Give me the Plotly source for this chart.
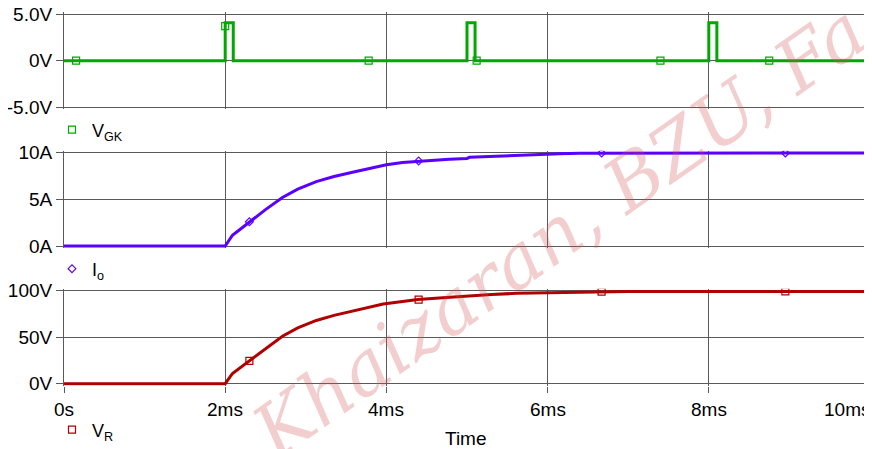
import plotly.graph_objects as go

# ---------------- data (time in ms) ----------------
t_vgk = [0, 2.0, 2.0, 2.1, 2.1, 5.0, 5.0, 5.1, 5.1, 8.0, 8.0, 8.1, 8.1, 10.0]
vgk = [0, 0, 4.05, 4.05, 0, 0, 4.05, 4.05, 0, 0, 4.05, 4.05, 0, 0]
t_vgk_mk = [0.15, 2.0, 3.78, 5.12, 7.40, 8.75]
vgk_mk = [0, 3.7, 0, 0, 0, 0]

t_io = [0, 2.0, 2.09, 2.3, 2.5, 2.71, 2.9, 3.13, 3.35, 3.58, 3.8, 4.0, 4.2, 4.39,
        4.6, 4.78, 5.0, 5.03, 5.3, 5.53, 5.8, 6.15, 6.4, 7.0, 8.0, 9.0, 10.0]
io = [0, 0, 1.15, 2.6, 3.9, 5.2, 6.1, 6.9, 7.45, 7.9, 8.35, 8.7, 8.95, 9.1,
      9.2, 9.3, 9.38, 9.5, 9.6, 9.72, 9.8, 9.88, 9.95, 9.96, 9.97, 9.97, 9.97]
t_io_mk = [2.3, 4.40, 6.67, 8.95]
io_mk = [2.6, 9.12, 9.96, 9.97]

t_vr = [0, 2.0, 2.09, 2.3, 2.5, 2.71, 2.9, 3.13, 3.35, 3.54, 3.75, 3.96, 4.2, 4.39,
        4.7, 5.03, 5.3, 5.61, 6.02, 6.4, 7.0, 8.0, 9.0, 10.0]
vr = [0, 0, 11, 24.5, 38, 51, 60, 68, 73.5, 77.5, 82, 85.7, 88.5, 90.5,
      92.5, 94.6, 95.8, 97.2, 97.8, 98.8, 99.1, 99.2, 99.2, 99.2]
t_vr_mk = [2.3, 4.40, 6.67, 8.95]
vr_mk = [24.5, 90.5, 99.1, 99.2]

x_ticks = [0, 2, 4, 6, 8, 10]
x_ticklabels = ["0s", "2ms", "4ms", "6ms", "8ms", "10ms"]
y1_ticks = [-5, 0, 5]
y1_labels = ["-5.0V", "0V", "5.0V"]
y2_ticks = [0, 5, 10]
y2_labels = ["0A", "5A", "10A"]
y3_ticks = [0, 50, 100]
y3_labels = ["0V", "50V", "100V"]

# ---------------- styling ----------------
GREEN = "#00a800"
BLUE = "#5a00ff"
RED = "#b00000"
GRID = "#5a5a5a"
FONT = "Liberation Sans, Arial, sans-serif"

fig = go.Figure()

fig.add_trace(go.Scatter(x=t_vgk, y=vgk, mode="lines", line=dict(color=GREEN, width=3),
                         xaxis="x", yaxis="y", showlegend=False))
fig.add_trace(go.Scatter(x=t_vgk_mk, y=vgk_mk, mode="markers",
                         marker=dict(symbol="square-open", size=7, color=GREEN, line=dict(width=1.2)),
                         xaxis="x", yaxis="y", name="V<sub>GK</sub>", legend="legend"))
fig.add_trace(go.Scatter(x=t_io, y=io, mode="lines", line=dict(color=BLUE, width=3),
                         xaxis="x2", yaxis="y2", showlegend=False))
fig.add_trace(go.Scatter(x=t_io_mk, y=io_mk, mode="markers",
                         marker=dict(symbol="diamond-open", size=6, color=BLUE, line=dict(width=1.2)),
                         xaxis="x2", yaxis="y2", name="I<sub>o</sub>", legend="legend2"))
fig.add_trace(go.Scatter(x=t_vr, y=vr, mode="lines", line=dict(color=RED, width=3),
                         xaxis="x3", yaxis="y3", showlegend=False))
fig.add_trace(go.Scatter(x=t_vr_mk, y=vr_mk, mode="markers",
                         marker=dict(symbol="square-open", size=7, color=RED, line=dict(width=1.2)),
                         xaxis="x3", yaxis="y3", name="V<sub>R</sub>", legend="legend3"))

# page offset of the figure inside the browser body (default body margin)
OFF = 8
W, H = 872 - OFF, 449 - OFF
L, R, T, B = 64 - OFF, 2, 0, 0
PW = W - L - R

def py(P):
    return 1 - (P - OFF) / H

def px(P):
    return (P - OFF - L) / PW

xcommon = dict(range=[0, 10], tickvals=x_ticks, showgrid=True, gridcolor=GRID, gridwidth=1,
               showline=False, zeroline=False, fixedrange=True, automargin=False)
ycommon = dict(showgrid=True, gridcolor=GRID, gridwidth=1, showline=True, linecolor=GRID,
               linewidth=1, mirror=True, zeroline=False, ticks="outside", ticklen=7,
               tickcolor=GRID, automargin=False, ticklabeloverflow="allow",
               tickfont=dict(family=FONT, size=19, color="black"))

legfont = dict(family=FONT, size=18, color="black")
fig.update_layout(
    width=W, height=H,
    margin=dict(l=L, r=R, t=T, b=B, autoexpand=False),
    paper_bgcolor="white", plot_bgcolor="white",
    font=dict(family=FONT, color="black"),
    xaxis=dict(xcommon, anchor="y", showticklabels=False, ticks=""),
    xaxis2=dict(xcommon, anchor="y2", matches="x", showticklabels=False, ticks=""),
    xaxis3=dict(xcommon, anchor="y3", matches="x", showticklabels=False, ticks="outside",
                ticklen=6, tickcolor=GRID),
    yaxis=dict(ycommon, domain=[py(109.3), py(12)], range=[-5.214, 5.214],
               tickvals=y1_ticks, ticktext=y1_labels),
    yaxis2=dict(ycommon, domain=[py(248), py(150.7)], range=[-0.214, 10.214],
                tickvals=y2_ticks, ticktext=y2_labels),
    yaxis3=dict(ycommon, domain=[py(385.7), py(288.7)], range=[-2.15, 102.15],
                tickvals=y3_ticks, ticktext=y3_labels),
    legend=dict(x=px(52), y=py(130), xanchor="left", yanchor="middle",
                bgcolor="rgba(0,0,0,0)", font=legfont),
    legend2=dict(x=px(52), y=py(269), xanchor="left", yanchor="middle",
                 bgcolor="rgba(0,0,0,0)", font=legfont),
    legend3=dict(x=px(52), y=py(430), xanchor="left", yanchor="middle",
                 bgcolor="rgba(0,0,0,0)", font=legfont),
)

for v, lab in zip(x_ticks, x_ticklabels):
    last = v == x_ticks[-1]
    fig.add_annotation(x=v, y=py(409), xref="x3", yref="paper", text=lab, showarrow=False,
                       xanchor="right" if last else "center", yanchor="middle",
                       xshift=2 if last else 0,
                       font=dict(family=FONT, size=19, color="black"))

fig.add_annotation(x=px(466), y=py(438), xref="paper", yref="paper", text="Time", showarrow=False,
                   xanchor="center", yanchor="middle", font=dict(family=FONT, size=19, color="black"))

# watermark
fig.add_annotation(x=px(558), y=py(232), xref="paper", yref="paper",
                   text="<i>Khaizaran, BZU, Fa</i>", showarrow=False, textangle=-35,
                   xanchor="center", yanchor="middle",
                   font=dict(family="DejaVu Serif, serif", size=74, color="rgba(210,80,80,0.28)"))

fig.write_html("out.html")
